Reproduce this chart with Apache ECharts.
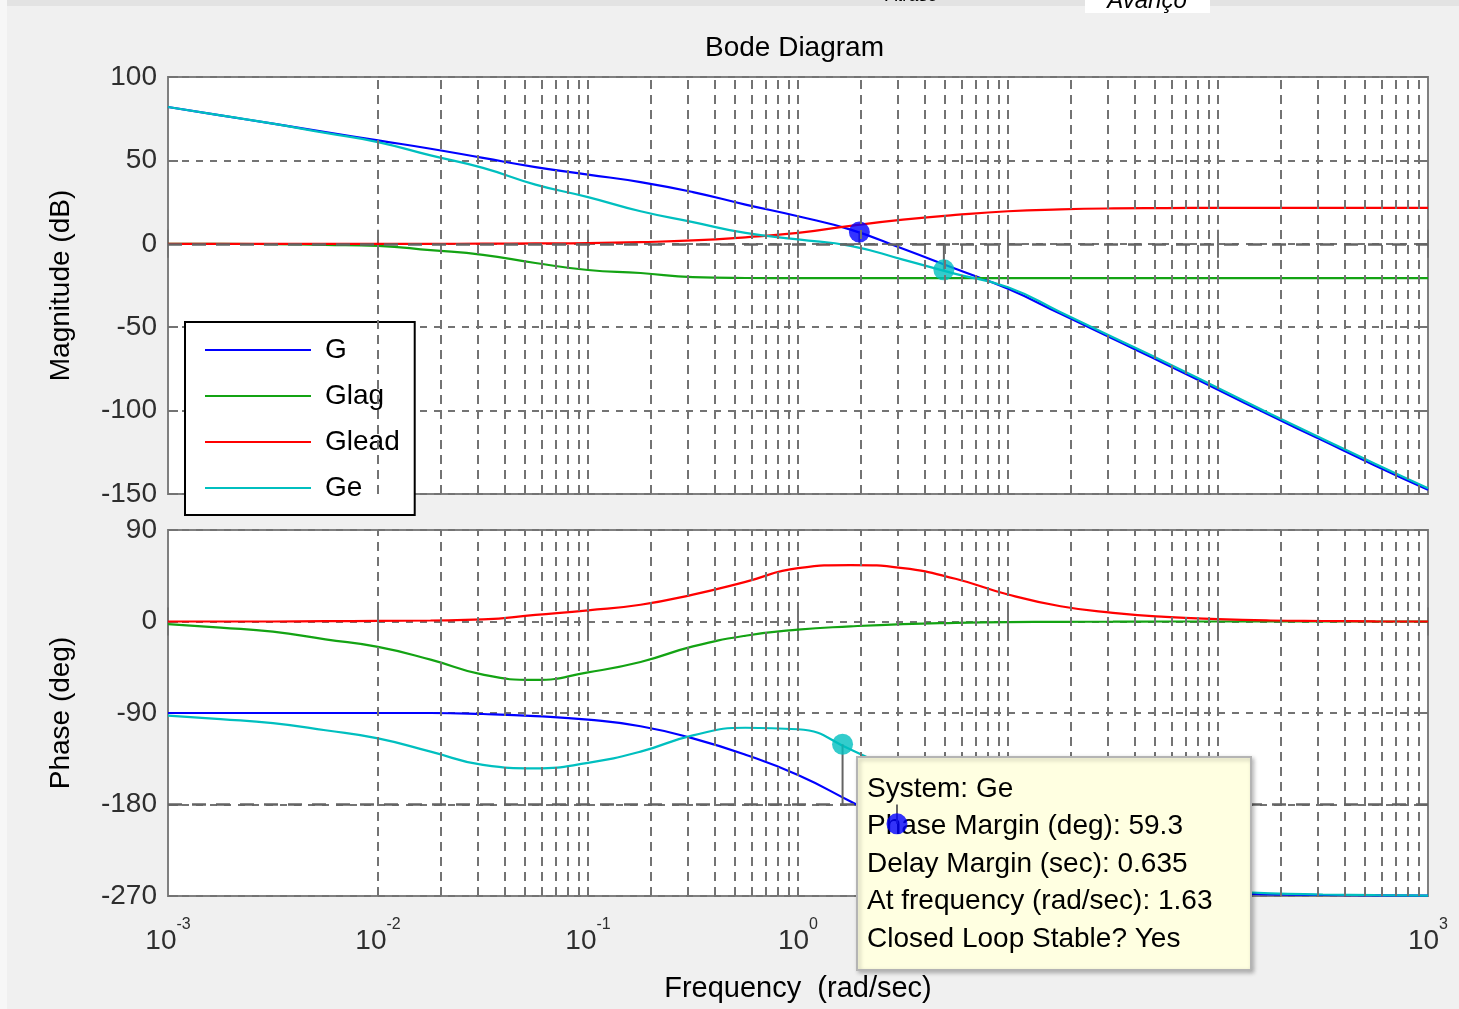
<!DOCTYPE html>
<html>
<head>
<meta charset="utf-8">
<script src="https://cdn.jsdelivr.net/npm/echarts@6.0.0/dist/echarts.min.js"></script>
<style>
html,body{margin:0;padding:0;background:#f0f0f0;}
#c{width:1459px;height:1009px;}
</style>
</head>
<body>
<div id="c"></div>
<script>
// ---------------- data ----------------
const freq = [0.001, 0.00178, 0.00316, 0.00562, 0.01, 0.0178, 0.0316, 0.0562, 0.1, 0.178, 0.316, 0.562,
              1, 1.78, 3.16, 5.62, 10, 17.8, 31.6, 56.2, 100, 178, 316, 562, 1000];

// magnitude (dB)
const gMag     = [82, 77, 72, 67, 62, 57, 51.5, 46, 41.5, 37, 31, 23.5, 16.5, 8.5, -3, -15, -27, -42, -57, -72, -87.5, -103, -118, -133, -147.5];
const glagMag  = [0, 0, -0.2, -0.6, -1.2, -3.8, -6.6, -11.5, -15.7, -17.5, -20, -20.5, -20.6, -20.6, -20.6, -20.6, -20.6, -20.6, -20.6, -20.6, -20.6, -20.6, -20.6, -20.6, -20.6];
const gleadMag = [0, 0, 0, 0, 0, 0, 0.1, 0.2, 0.4, 1.0, 2.0, 3.9, 6.5, 10.8, 14.5, 17.3, 19.5, 20.6, 21.2, 21.4, 21.5, 21.5, 21.5, 21.5, 21.5];
const geMag    = [82, 77, 72, 66.5, 61, 53, 45.5, 35.5, 28, 19.5, 13, 6.5, 2.6, -1.2, -9.5, -18, -26, -41, -56, -71, -86.5, -102, -117, -132, -146.5];

// phase (deg)
const gPhase     = [-90, -90, -90, -90, -90, -90, -91, -93, -96.5, -103, -115, -131, -151, -177, -203, -223, -242.5, -254, -261, -265, -267, -268.4, -269, -269.4, -269.7];
const glagPhase  = [-2.5, -6, -10, -17.6, -25, -37.5, -52.3, -57.5, -50, -39.8, -24.5, -14, -8, -4.8, -2.5, -1.3, -0.6, -0.3, -0.2, 0, 0, 0, 0, 0, 0];
const gleadPhase = [0, 0, 0, 0.3, 0.6, 1, 2, 6.5, 11, 16.5, 26.5, 39, 52.5, 55.5, 52.5, 42, 26.5, 15, 8.5, 4.5, 2.3, 1, 0.5, 0.2, 0];
const gePhase    = [-92.5, -96, -100, -107, -115, -128, -141, -144.5, -139, -128, -112, -104.5, -106, -126, -152, -182, -216, -239, -252.5, -260.5, -264.7, -267.4, -268.5, -269.2, -269.7];

// margin markers [frequency, value]
const gMagMarker    = [1.96, 7];
const geMagMarker   = [4.95, -15.6];
const gePhaseMarker = [1.63, -120.7];
const gPhaseMarker  = [2.96, -199];

// ticks / labels
const xTickExps   = ['-3', '-2', '-1', '0', '1', '2', '3'];
const magTicks    = [100, 50, 0, -50, -100, -150];
const phaseTicks  = [90, 0, -90, -180, -270];
const seriesNames = ['G', 'Glag', 'Glead', 'Ge'];
const tipLines = ['System: Ge', 'Phase Margin (deg): 59.3', 'Delay Margin (sec): 0.635',
                  'At frequency (rad/sec): 1.63', 'Closed Loop Stable? Yes'];

// ---------------- styles ----------------
const FONT = '"Liberation Sans", Arial, sans-serif';
const COLORS = {G: '#0000ff', Glag: '#13a313', Glead: '#ff0000', Ge: '#00bfbf'};
const GRID_GRAY = '#737373';
const TICK_COLOR = '#2e2e2e';

function pairs(vals) { return freq.map((f, i) => [f, vals[i]]); }

// vertical log grid lines (2..9 x decade)
const vGrid = [];
for (let k = -3; k < 3; k++) {
  for (let m = 1; m <= 9; m++) {
    const v = m * Math.pow(10, k);
    if (v > 0.0011) vGrid.push({xAxis: v});
  }
}

const chart = echarts.init(document.getElementById('c'), null, {renderer: 'canvas'});

function xAxisBase(gridIndex, pos, showLabels) {
  return {
    type: 'log', logBase: 10, gridIndex: gridIndex, position: pos,
    min: 0.001, max: 1000, splitNumber: 6,
    axisLine: {show: false},
    axisTick: {show: true, inside: true, length: 14, lineStyle: {color: GRID_GRAY, width: 2}},
    splitLine: {show: false},
    axisLabel: showLabels ? {
      show: true, margin: 31,
      formatter: function (v) {
        const e = Math.round(Math.log10(v));
        return '{b|10}{e|' + xTickExps[e + 3] + '}';
      },
      rich: {
        b: {fontSize: 28, fontFamily: FONT, color: TICK_COLOR, lineHeight: 28},
        e: {fontSize: 16, fontFamily: FONT, color: TICK_COLOR, lineHeight: 16, padding: [0, 0, 32, 0]}
      }
    } : {show: false}
  };
}

function yAxisBase(gridIndex, pos, ticks, left, name) {
  const mn = ticks[ticks.length - 1], mx = ticks[0];
  return {
    type: 'value', gridIndex: gridIndex, position: pos,
    min: mn, max: mx, interval: ticks[0] - ticks[1],
    axisLine: {show: false},
    axisTick: {show: true, inside: true, length: 10, lineStyle: {color: GRID_GRAY, width: 2}},
    splitLine: left ? {show: true, lineStyle: {color: GRID_GRAY, width: 2, type: [7, 7]}} : {show: false},
    axisLabel: left ? {show: true, fontSize: 28, fontFamily: FONT, color: TICK_COLOR, margin: 11} : {show: false},
    name: left ? name : '',
    nameLocation: 'middle', nameGap: 93,
    nameTextStyle: {fontSize: 28, fontFamily: FONT, color: '#000'}
  };
}

function curve(name, vals, xi, yi, z) {
  return {
    name: name, type: 'line', xAxisIndex: xi, yAxisIndex: yi,
    data: pairs(vals), showSymbol: false, symbol: 'none',
    smooth: 0.5,
    lineStyle: {color: COLORS[name], width: 2.2},
    itemStyle: {color: COLORS[name]},
    z: z, silent: true
  };
}

function vGridSeries(xi, yi) {
  return {
    type: 'line', xAxisIndex: xi, yAxisIndex: yi, data: [], z: 1, silent: true,
    markLine: {
      silent: true, symbol: ['none', 'none'], label: {show: false},
      lineStyle: {color: GRID_GRAY, width: 2, type: [9, 6]},
      data: vGrid, animation: false
    }
  };
}

function refLine(xi, yi, yv, z) {
  return {
    type: 'line', xAxisIndex: xi, yAxisIndex: yi, data: [], z: z, silent: true,
    markLine: {
      silent: true, symbol: ['none', 'none'], label: {show: false},
      lineStyle: {color: '#646464', width: 2.5, type: [14, 10]},
      data: [{yAxis: yv}], animation: false
    }
  };
}

function stem(x, y0, y1, xi, yi, z) {
  return {
    type: 'line', xAxisIndex: xi, yAxisIndex: yi, data: [[x, y0], [x, y1]],
    symbol: 'none', lineStyle: {color: '#646464', width: 2}, z: z, silent: true
  };
}

function marker(pt, color, xi, yi, z) {
  return {
    type: 'scatter', xAxisIndex: xi, yAxisIndex: yi, data: [pt],
    symbol: 'circle', symbolSize: 21, itemStyle: {color: color}, z: z, silent: true
  };
}

const tipX = 857, tipY = 757, tipW = 394, tipH = 213;
const tipChildren = [{
  type: 'rect', shape: {x: tipX, y: tipY, width: tipW, height: tipH},
  style: {fill: '#ffffe1', stroke: '#b4b4b4', lineWidth: 2, shadowBlur: 4, shadowColor: 'rgba(0,0,0,0.25)', shadowOffsetX: 2, shadowOffsetY: 2}
}];
tipLines.forEach((t, i) => {
  tipChildren.push({
    type: 'text',
    style: {text: t, x: tipX + 10, y: 789 + i * 37.5, fontSize: 28, fontFamily: FONT, fill: '#000', verticalAlign: 'middle', textVerticalAlign: 'middle'}
  });
});

const option = {
  animation: false,
  backgroundColor: '#f0f0f0',
  title: {
    text: 'Bode Diagram', left: 700, top: 29,
    textStyle: {fontSize: 28, fontFamily: FONT, color: '#000', fontWeight: 'normal'}
  },
  legend: {
    left: 185, top: 322, orient: 'vertical', icon: 'rect',
    itemWidth: 106, itemHeight: 2, itemGap: 18,
    padding: [14, 15, 13, 20],
    backgroundColor: '#fff', borderColor: '#000', borderWidth: 2, borderRadius: 0,
    textStyle: {fontSize: 28, fontFamily: FONT, color: '#000', padding: [0, 0, 0, 9]},
    data: seriesNames, selectedMode: false
  },
  grid: [
    {left: 168, top: 77, width: 1260, height: 417, show: true, backgroundColor: '#fff', borderColor: '#808080', borderWidth: 2, containLabel: false, outerBoundsMode: 'none'},
    {left: 168, top: 530, width: 1260, height: 366, show: true, backgroundColor: '#fff', borderColor: '#808080', borderWidth: 2, containLabel: false, outerBoundsMode: 'none'}
  ],
  xAxis: [
    xAxisBase(0, 'bottom', false),
    Object.assign(xAxisBase(1, 'bottom', true), {
      name: 'Frequency  (rad/sec)', nameLocation: 'middle', nameGap: 78,
      nameTextStyle: {fontSize: 29, fontFamily: FONT, color: '#000'}
    }),
    xAxisBase(0, 'top', false),
    xAxisBase(1, 'top', false)
  ],
  yAxis: [
    yAxisBase(0, 'left', magTicks, true, 'Magnitude (dB)'),
    yAxisBase(1, 'left', phaseTicks, true, 'Phase (deg)'),
    yAxisBase(0, 'right', magTicks, false, ''),
    yAxisBase(1, 'right', phaseTicks, false, '')
  ],
  graphic: {
    elements: [
      {type: 'rect', z: 0, shape: {x: 0, y: 0, width: 1459, height: 6}, style: {fill: '#e3e3e3'}},
      {type: 'rect', z: 0, shape: {x: 0, y: 0, width: 7, height: 1009}, style: {fill: '#f7f7f7'}},
      {type: 'rect', z: 1, shape: {x: 1085, y: 0, width: 125, height: 13}, style: {fill: '#ffffff'}},
      {type: 'text', z: 2, style: {text: 'Avanço', x: 1147, y: -11, fontSize: 24, fontStyle: 'italic', fontFamily: FONT, fill: '#000', textAlign: 'center', align: 'center', verticalAlign: 'top'}},
      {type: 'text', z: 2, style: {text: 'Atraso', x: 912, y: -13, fontSize: 18, fontStyle: 'italic', fontFamily: FONT, fill: '#000', textAlign: 'center', align: 'center', verticalAlign: 'top'}},
      {type: 'group', z: 100, children: tipChildren.map(c => Object.assign(c, {z: 100}))}
    ]
  },
  series: [
    vGridSeries(0, 0),
    vGridSeries(1, 1),
    curve('G', gMag, 0, 0, 2),
    curve('Glag', glagMag, 0, 0, 2),
    curve('Glead', gleadMag, 0, 0, 2),
    curve('Ge', geMag, 0, 0, 2),
    curve('G', gPhase, 1, 1, 2),
    curve('Glag', glagPhase, 1, 1, 2),
    curve('Glead', gleadPhase, 1, 1, 2),
    curve('Ge', gePhase, 1, 1, 2),
    refLine(0, 0, 0, 3),
    refLine(1, 1, -180, 150),
    stem(gMagMarker[0], 0, gMagMarker[1], 0, 0, 3),
    stem(geMagMarker[0], 0, geMagMarker[1], 0, 0, 3),
    stem(gePhaseMarker[0], -180, gePhaseMarker[1], 1, 1, 3),
    stem(gPhaseMarker[0], -180, gPhaseMarker[1], 1, 1, 150),
    marker(gMagMarker, COLORS.G, 0, 0, 4),
    marker(geMagMarker, COLORS.Ge, 0, 0, 4),
    marker(gePhaseMarker, COLORS.Ge, 1, 1, 4),
    marker(gPhaseMarker, COLORS.G, 1, 1, 160)
  ]
};

chart.setOption(option);
</script>
</body>
</html>
